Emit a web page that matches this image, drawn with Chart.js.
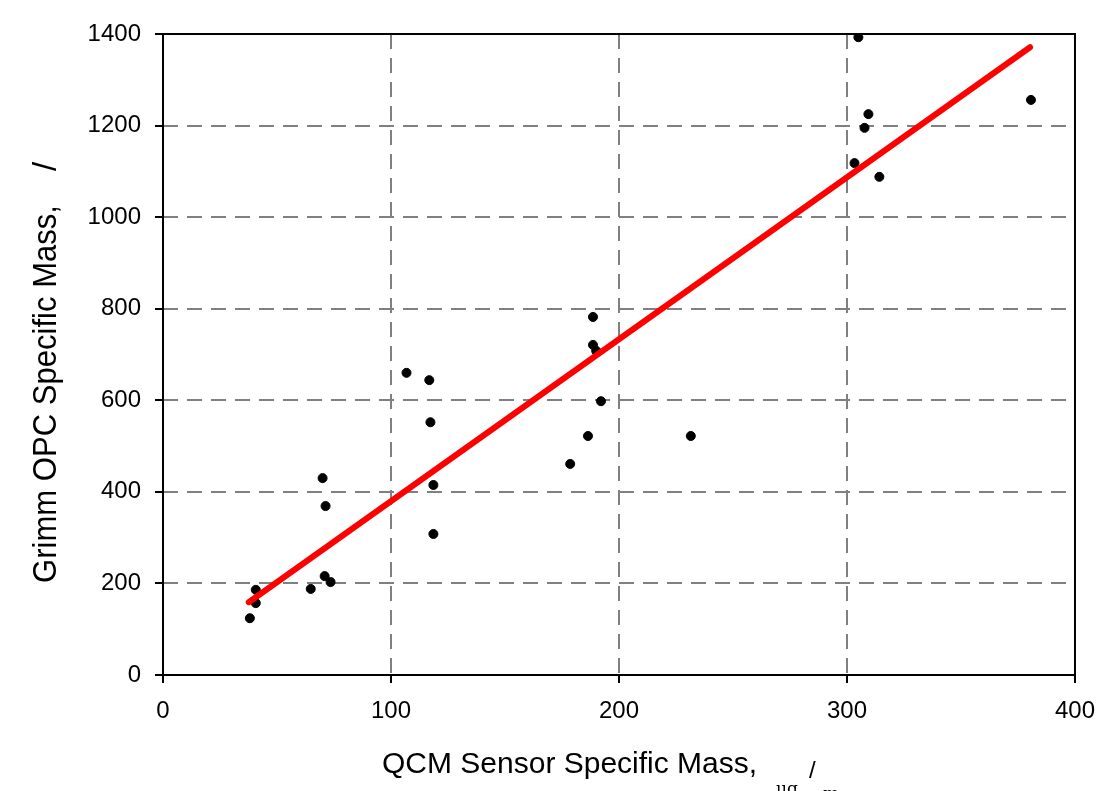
<!DOCTYPE html>
<html>
<head>
<meta charset="utf-8">
<script src="https://cdn.jsdelivr.net/npm/chart.js@4"></script>
<style>
  html, body { margin: 0; padding: 0; background: #fff; }
  #wrap { width: 1109px; height: 791px; }
</style>
</head>
<body>
<div id="wrap"><canvas id="myChart" width="1109" height="791"></canvas></div>
<script>
// measured points (QCM vs Grimm)
var qcmMass = [38.1, 40.7, 40.7, 64.8, 70.9, 73.5, 70.0, 71.3, 106.8, 116.8, 117.3, 118.6, 118.6,
  178.6, 186.4, 188.6, 188.6, 190.0, 192.1, 231.5, 303.3, 305.0, 307.7, 309.4, 314.2, 380.7];
var grimmMass = [124, 186, 157, 188, 216, 203, 430, 369, 660, 644, 552, 415, 308,
  461, 522, 782, 721, 708, 598, 522, 1118, 1393, 1195, 1225, 1088, 1256];

// fit line end points
var fitX = [37.6, 380.3];
var fitY = [159, 1371];

var xTicks = [0, 100, 200, 300, 400];
var yTicks = [0, 200, 400, 600, 800, 1000, 1200, 1400];

var fontName = "'Liberation Sans', Arial, sans-serif";

//gridlines dashed but not on the box edges
function gridColor(ctx) {
  var v = ctx.tick ? ctx.tick.value : null;
  if (v === null) return "rgba(0,0,0,0)";
  if (ctx.scale.axis === "x" && (v === 0 || v === 400)) return "rgba(0,0,0,0)";
  if (ctx.scale.axis === "y" && (v === 0 || v === 1400)) return "rgba(0,0,0,0)";
  return "#808080";
}

// box + axis titles
const frameTitles = {
  id: "frameTitles",
  afterDraw(chart) {
    const c = chart.ctx;
    const a = chart.chartArea;
    c.save();
    c.strokeStyle = "#000";
    c.lineWidth = 2;
    c.setLineDash([]);
    c.strokeRect(a.left, a.top, a.right - a.left, a.bottom - a.top);

    c.fillStyle = "#000";
    c.textBaseline = "alphabetic";
    c.textAlign = "left";
    c.font = "30px " + fontName;
    c.fillText("QCM Sensor Specific Mass,", 382, 773);
    c.font = "17px 'DejaVu Serif', serif";
    c.fillText("\u03bcg", 776, 794);
    c.font = "24px " + fontName;
    c.fillText("/", 809, 778);
    c.font = "17px 'DejaVu Serif', serif";
    c.fillText("m", 823, 799);

    c.translate(56, 583);
    c.rotate(-Math.PI / 2);
    c.font = "33px " + fontName;
    c.fillText("Grimm OPC Specific Mass,", 0, 0, 378);
    c.fillText("/", 412, 0);
    c.restore();
  }
};

function axisOpts(min, max, list, isX) {
  return {
    type: "linear",
    min: min, max: max,
    afterFit: function (s) { if (isX) s.height = 116; else s.width = 163; },
    afterBuildTicks: function (s) { s.ticks = list.map(function (v) { return { value: v }; }); },
    grid: {
      color: gridColor,
      lineWidth: 2,
      tickColor: "#000",
      tickLength: 8,
      tickBorderDash: [],
      tickWidth: 2
    },
    border: { display: false, dash: [15, 9] },
    ticks: {
      color: "#000",
      padding: 14,
      font: { size: 24, family: fontName },
      callback: function (v) { return String(v); }
    }
  };
}

const myChart = new Chart("myChart", {
  type: "scatter",
  data: {
    datasets: [{
      type: "line",
      data: fitX.map(function (x, i) { return { x: x, y: fitY[i] }; }),
      borderColor: "#ff0000",
      borderWidth: 6,
      borderCapStyle: "round",
      pointRadius: 0,
      fill: false
    }, {
      data: qcmMass.map(function (x, i) { return { x: x, y: grimmMass[i] }; }),
      backgroundColor: "#000",
      borderColor: "#000",
      pointRadius: 4.5,
      pointHoverRadius: 4.5
    }]
  },
  options: {
    responsive: false,
    animation: false,
    layout: { padding: { top: 34, right: 32, left: 0, bottom: 0 } },
    plugins: {
      legend: { display: false },
      tooltip: { enabled: false }
    },
    scales: {
      x: axisOpts(0, 400, xTicks, true),
      y: axisOpts(0, 1400, yTicks, false)
    }
  },
  plugins: [frameTitles]
});
</script>
</body>
</html>
